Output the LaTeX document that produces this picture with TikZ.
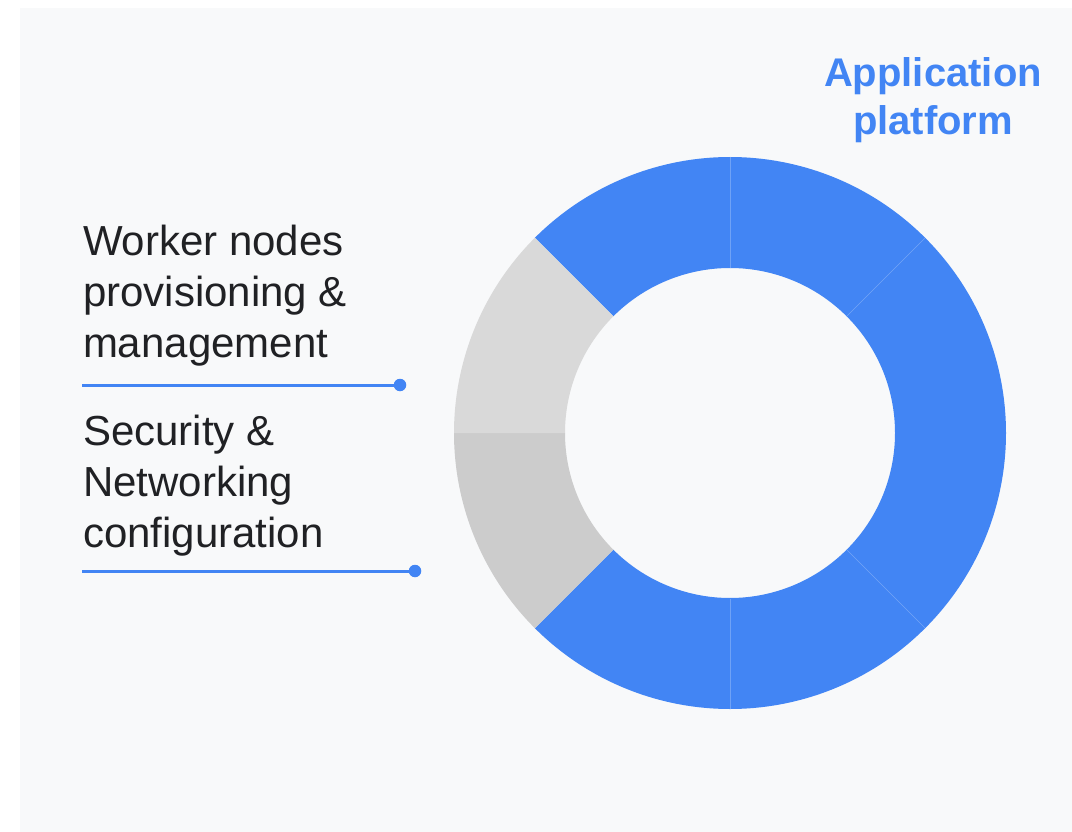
\documentclass[tikz,border=0pt]{standalone}
\usepackage{fontspec}
\setmainfont{Liberation Sans}
\definecolor{panelbg}{HTML}{F8F9FA}
\definecolor{gblue}{HTML}{4285F4}
\definecolor{seamblue}{HTML}{6FA2F6}
\definecolor{greylight}{HTML}{D9D9D9}
\definecolor{greydark}{HTML}{CCCCCC}
\definecolor{inktext}{HTML}{202124}

% one slice of the ring between two angles
\newcommand\ringslice[3]{%
  \fill[#3] (#1:276) arc[start angle=#1, end angle=#2, radius=276]
    -- (#2:165) arc[start angle=#2, end angle=#1, radius=165] -- cycle;}

\begin{document}
\begin{tikzpicture}[x=1pt, y=1pt,
  label text/.style={inner sep=0pt, outer sep=0pt, align=left, text=inktext,
    font=\fontsize{42}{51}\selectfont},
  title text/.style={inner sep=0pt, outer sep=0pt, align=center, text=gblue,
    font=\bfseries\fontsize{40}{48}\selectfont},
  leader/.style={draw=gblue, line width=3pt},
  leader dot/.style={circle, fill=gblue, inner sep=0pt, minimum size=12.5pt},
  seam/.style={draw=seamblue, line width=0.6pt}]

\useasboundingbox (0,0) rectangle (1072,-832);
\fill[panelbg] (20,-8) rectangle (1072,-832);

% ring chart
\begin{scope}[shift={(730,-433)}]
  \ringslice{90}{135}{gblue}
  \ringslice{45}{90}{gblue}
  \ringslice{-45}{45}{gblue}
  \ringslice{-90}{-45}{gblue}
  \ringslice{-135}{-90}{gblue}
  \ringslice{-180}{-135}{greydark}
  \ringslice{135}{180}{greylight}
  % faint joins between neighbouring blue slices
  \foreach \a in {90,45,-45,-90} \draw[seam] (\a:165.5) -- (\a:275.5);
\end{scope}

% headline (base anchor sits on the last line)
\node[title text, anchor=base] (title) at (933,-135) {Application\\platform};

% left labels
\node[label text, anchor=base west] (worker) at (83,-357)
  {Worker nodes\\provisioning \&\\management};
\node[label text, anchor=base west] (security) at (83,-547)
  {Security \&\\Networking\\configuration};

% leader lines
\coordinate (lead1) at (82,-385);
\node[leader dot] (dot1) at (400,-385) {};
\draw[leader] (lead1) -- (dot1.center);

\coordinate (lead2) at (82,-571);
\node[leader dot] (dot2) at (415,-571) {};
\draw[leader] (lead2) -- (dot2.center);
\end{tikzpicture}
\end{document}
